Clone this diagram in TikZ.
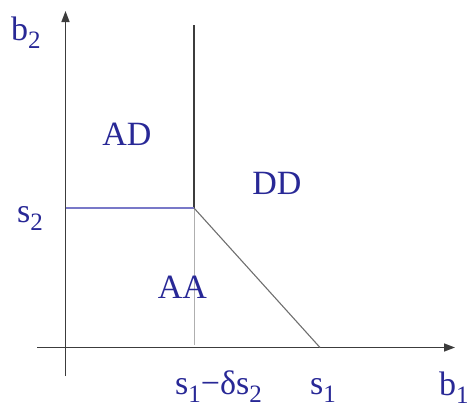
\documentclass[tikz,border=0pt]{standalone}
\usepackage{fontspec}
\setmainfont{Liberation Serif}
\usetikzlibrary{arrows.meta}
\definecolor{txt}{RGB}{40,40,150}
\definecolor{axis}{RGB}{60,60,60}
\definecolor{bluel}{RGB}{120,120,200}
\definecolor{grayl}{RGB}{175,175,175}
\definecolor{diag}{RGB}{110,110,110}
\newcommand{\sbs}[1]{\raisebox{-8pt}{\fontsize{25}{25}\selectfont #1}}
\tikzset{
  lbl/.style={text=txt, font=\fontsize{34}{34}\selectfont, inner sep=0pt},
  ax/.style={draw=axis, line width=1.4pt, -{Triangle[length=11pt,width=8pt]}},
}
\begin{document}
\begin{tikzpicture}[x=1pt,y=-1pt]
\useasboundingbox (0,0) rectangle (470,407);
% coordinates
\coordinate (xs) at (37,347.5);
\coordinate (xe) at (455,347.5);
\coordinate (ys) at (65.5,376);
\coordinate (ye) at (65.5,11);
\coordinate (top) at (194,25);
\coordinate (k) at (194,208);
\coordinate (kl) at (65.5,208);
\coordinate (kb) at (194,345);
\coordinate (d) at (320,347.5);
% axes
\draw[ax] (xs) -- (xe);
\draw[ax] (ys) -- (ye);
% region lines
\draw[draw=axis, line width=1.1pt] (top) -- (k);
\draw[draw=bluel, line width=1.2pt] (kl) -- (k);
\draw[draw=grayl, line width=1pt] (k) -- (kb);
\draw[draw=diag, line width=1.1pt] (k) -- (d);
% labels
\node[lbl, anchor=base] (ad) at (127,145) {AD};
\node[lbl, anchor=base] (dd) at (277,194) {DD};
\node[lbl, anchor=base] (aa) at (182.5,298) {AA};
\node[lbl, anchor=base west] (b2) at (11,40.5) {b\sbs{2}};
\node[lbl, anchor=base west] (s2) at (17,222.5) {s\sbs{2}};
\node[lbl, anchor=base west] (sd) at (175,394) {s\sbs{1}−δs\sbs{2}};
\node[lbl, anchor=base west] (s1) at (310,394) {s\sbs{1}};
\node[lbl, anchor=base west] (b1) at (439,395) {b\sbs{1}};
\end{tikzpicture}
\end{document}
